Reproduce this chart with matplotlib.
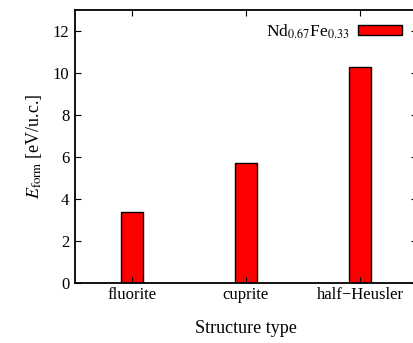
import numpy as np
import matplotlib.pyplot as plt

plt.rcParams['font.family'] = ['Liberation Serif', 'DejaVu Serif']
plt.rcParams['mathtext.fontset'] = 'stix'

structures = ["fluorite", "cuprite", "half\u2212Heusler"]
e_form = [3.4, 5.7, 10.3]

fig = plt.figure(figsize=(4.14, 3.43), dpi=100)
ax = fig.add_axes([0.181, 0.175, 0.826, 0.796])

x = np.arange(len(structures))
ax.bar(x, e_form, width=0.2, color='#ff0000', edgecolor='black', linewidth=1.0,
       label=r'Nd$_{0.67}$Fe$_{0.33}$')

ax.set_xlim(-0.5, 2.5)
ax.set_ylim(0, 13)
ax.set_yticks([0, 2, 4, 6, 8, 10, 12])
ax.set_xticks(x)
ax.set_xticklabels(structures)
ax.tick_params(direction='in', top=True, right=True, labelsize=12, length=4, pad=4)
ax.tick_params(axis='x', pad=3)
for s in ax.spines.values():
    s.set_linewidth(1.3)

ax.set_xlabel("Structure type", fontsize=13, labelpad=12)
ax.set_ylabel(r"$E_{\rm form}$ [eV/u.c.]", fontsize=13, labelpad=6)

ax.legend(loc='upper right', markerfirst=False, frameon=False, fontsize=12.5,
          handlelength=2.5, handleheight=0.45, handletextpad=0.5,
          borderaxespad=0.0, borderpad=0.0,
          bbox_to_anchor=(0.955, 0.955))

plt.savefig("out.png", dpi=100)
